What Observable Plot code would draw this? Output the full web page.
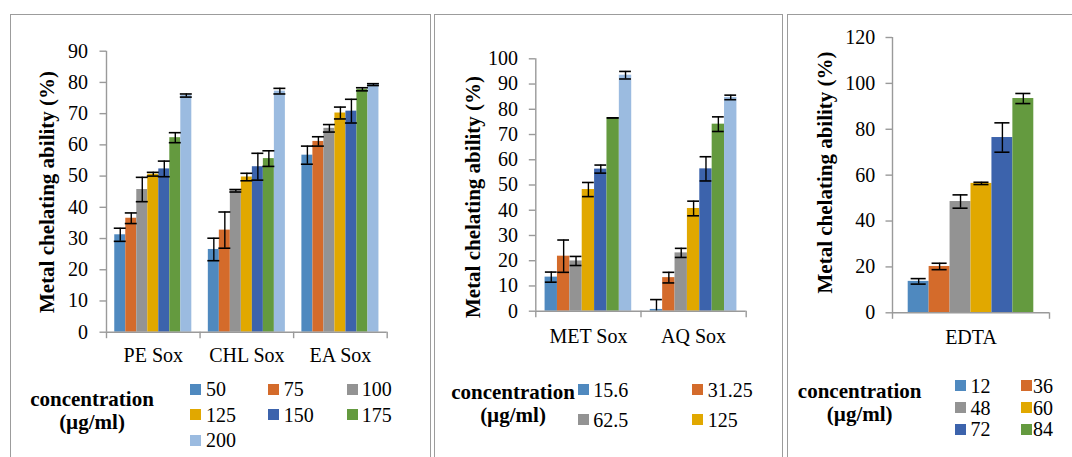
<!DOCTYPE html>
<html>
<head>
<meta charset="utf-8">
<script src="https://cdn.jsdelivr.net/npm/d3@7"></script>
<script src="https://cdn.jsdelivr.net/npm/@observablehq/plot@0.6"></script>
<style>
  html, body { margin: 0; padding: 0; background: #fff; }
  body { position: relative; width: 1072px; height: 457px; overflow: hidden;
         font-family: "Liberation Serif", Times, "DejaVu Serif", serif; color: #000; }
  .panel { position: absolute; box-sizing: border-box; border: 1.5px solid #9c9c9c; height: 520px; }
  .chart { position: absolute; top: 0; }
  .lg-title { position: absolute; font-weight: bold; font-size: 21px; line-height: 21px;
              white-space: nowrap; transform: translateX(-50%); }
  .lg-swatch { position: absolute; width: 11px; height: 11px; }
  .lg-text { position: absolute; font-size: 20px; line-height: 20px; white-space: nowrap; }
</style>
</head>
<body>
<script>
// ---- shared labels and colours ----
const yTitle = "Metal chelating ability (%)";
const legendTitle = ["concentration", "(µg/ml)"];
const palette = ["#4F89BF", "#D46B2B", "#939393", "#E1A800", "#3C63AC", "#649A3F", "#9BBBE0"];
const fontStack = "'Liberation Serif', Times, 'DejaVu Serif', serif";

// ---- Soxhlet extracts: PE, CHL, EA (µg/ml) ----
const groupsA = ["PE Sox", "CHL Sox", "EA Sox"];
const concA = ["50", "75", "100", "125", "150", "175", "200"];
const meanA = [
  [31.2, 36.5, 45.7, 50.6, 52.3, 62.3, 75.8],
  [26.5, 32.7, 45.3, 49.7, 53.0, 55.6, 77.2],
  [56.7, 61.1, 65.3, 70.2, 70.8, 77.8, 79.3]
];
const errA = [
  [2.1, 1.7, 3.9, 0.6, 2.5, 1.6, 0.5],
  [3.6, 5.8, 0.4, 1.2, 4.3, 2.5, 0.9],
  [2.9, 1.5, 1.2, 1.9, 3.8, 0.5, 0.3]
];
const yTicksA = [0, 10, 20, 30, 40, 50, 60, 70, 80, 90];

// ---- Soxhlet extracts: MET, AQ ----
const groupsB = ["MET Sox", "AQ Sox"];
const concB = ["15.6", "31.25", "62.5", "125", "250", "500", "1000"];
const legendConcB = ["15.6", "31.25", "62.5", "125"];
const meanB = [
  [13.5, 21.8, 19.9, 48.2, 56.3, 76.6, 93.5],
  [0.7, 13.3, 23.1, 40.7, 56.4, 74.1, 84.7]
];
const errB = [
  [2.0, 6.4, 1.8, 2.8, 1.6, 0.0, 1.5],
  [3.9, 2.1, 1.8, 2.9, 4.8, 2.9, 0.9]
];
const yTicksB = [0, 10, 20, 30, 40, 50, 60, 70, 80, 90, 100];

// ---- EDTA standard ----
const groupsC = ["EDTA"];
const concC = ["12", "36", "48", "60", "72", "84"];
const meanC = [[13.7, 20.2, 48.5, 56.4, 76.4, 93.4]];
const errC = [[1.2, 1.4, 2.9, 0.5, 6.4, 2.2]];
const yTicksC = [0, 20, 40, 60, 80, 100, 120];

// ---- panel layout (page pixels) ----
const panels = [
  {
    groups: groupsA, concs: concA, means: meanA, errs: errA, yTicks: yTicksA, legendConcs: concA,
    box: {left: 10, top: 14, width: 421},
    svg: {left: 11, width: 419, mL: 95, mR: 43.3, mT: 50.7, mB: 125.3},
    capHalf: 0.064, catPad: 15.5, yPad: 12, titleDx: -59.3, titleDy: 0.3,
    legend: {titleCx: 92, baselines: [407, 430], swatchX: [190, 268.3, 346.7],
             textX: [206, 283.7, 361.7], rowY: [389.3, 414.5, 440]}
  },
  {
    groups: groupsB, concs: concB, means: meanB, errs: errB, yTicks: yTicksB, legendConcs: legendConcB,
    box: {left: 434, top: 14, width: 349},
    svg: {left: 435, width: 347, mL: 100.3, mR: 36.3, mT: 58.3, mB: 146.3},
    capHalf: 0.056, catPad: 18, yPad: 11.4, titleDx: -62.6, titleDy: 12,
    legend: {titleCx: 513, baselines: [400, 423], swatchX: [578.3, 692.3],
             textX: [593.3, 707.7], rowY: [389.7, 419.5]}
  },
  {
    groups: groupsC, concs: concC, means: meanC, errs: errC, yTicks: yTicksC, legendConcs: concC,
    box: {left: 787, top: 14, width: 300},
    svg: {left: 788, width: 284, mL: 104, mR: 23, mT: 37, mB: 144.7},
    capHalf: 0.048, catPad: 17, yPad: 10.7, titleDx: -67, titleDy: -2.7,
    legend: {titleCx: 859.7, baselines: [399, 421.5], swatchX: [955, 1021],
             textX: [970.5, 1033], rowY: [385.7, 407.7, 429]}
  }
];

const axisColor = "#9a9a9a";
const H = 457;

function drawPanel(p) {
  const n = p.concs.length;
  const w = 1 / (n + 1.5); // bar width in group units (Excel-style 150% gap)
  const rows = p.groups.flatMap((g, gi) => p.concs.map((c, ci) => {
    const x1 = gi + 0.75 * w + ci * w;
    const mean = p.means[gi][ci], err = p.errs[gi][ci];
    return {group: g, conc: c, x1, x2: x1 + w, xc: x1 + w / 2, mean, err,
            lo: Math.max(0, mean - err), hi: mean + err, clipped: mean - err < 0};
  }));
  const colorRange = palette.slice(0, n);

  const plot = Plot.plot({
    width: p.svg.width,
    height: H,
    marginLeft: p.svg.mL,
    marginRight: p.svg.mR,
    marginTop: p.svg.mT,
    marginBottom: p.svg.mB,
    style: {background: "transparent", fontFamily: fontStack,
            fontSize: "20px", color: "#000", overflow: "visible"},
    x: {domain: [0, p.groups.length], axis: null},
    y: {domain: [0, p.yTicks[p.yTicks.length - 1]], axis: null},
    color: {domain: p.concs, range: colorRange},
    marks: [
      Plot.rect(rows, {x1: "x1", x2: "x2", y1: 0, y2: "mean", fill: "conc"}),
      // error bars
      Plot.ruleX(rows, {x: "xc", y1: "lo", y2: "hi", stroke: "#000", strokeWidth: 1.4}),
      Plot.ruleY(rows, {y: "hi", x1: d => d.xc - p.capHalf, x2: d => d.xc + p.capHalf,
                        stroke: "#000", strokeWidth: 1.6}),
      Plot.ruleY(rows.filter(d => !d.clipped), {y: "lo", x1: d => d.xc - p.capHalf,
                        x2: d => d.xc + p.capHalf, stroke: "#000", strokeWidth: 1.6}),
      // axis lines
      Plot.ruleY([0], {stroke: axisColor, strokeWidth: 1.4}),
      Plot.ruleX([0], {stroke: axisColor, strokeWidth: 1.4}),
      Plot.axisY({ticks: p.yTicks, tickSize: 6.5, tickPadding: p.yPad, stroke: axisColor,
                  strokeWidth: 1.4, label: null, tickFormat: d => String(d)}),
      // group separators on the category axis
      Plot.axisX({ticks: d3.range(p.groups.length + 1), tickSize: 6.5, stroke: axisColor,
                  strokeWidth: 1.4, tickFormat: () => "", label: null}),
      // category names centred in each group
      Plot.axisX({ticks: p.groups.map((g, i) => i + 0.5), tickSize: 0, tickPadding: p.catPad,
                  tickFormat: d => p.groups[Math.floor(d)], label: null}),
      Plot.text([yTitle], {frameAnchor: "left", textAnchor: "middle", lineAnchor: "middle",
                           rotate: -90, dx: p.titleDx, dy: p.titleDy,
                           fontWeight: "bold", fontSize: 21, fill: "#000"})
    ]
  });
  plot.classList.add("chart");
  plot.style.left = p.svg.left + "px";
  document.body.appendChild(plot);

  // frame around the panel
  const box = document.createElement("div");
  box.className = "panel";
  box.style.left = p.box.left + "px";
  box.style.top = p.box.top + "px";
  box.style.width = p.box.width + "px";
  document.body.appendChild(box);

  // legend
  const L = p.legend;
  legendTitle.forEach((t, i) => {
    const el = document.createElement("div");
    el.className = "lg-title";
    el.textContent = t;
    el.style.left = L.titleCx + "px";
    el.style.top = (L.baselines[i] - 17.6) + "px";
    document.body.appendChild(el);
  });
  const cols = L.swatchX.length;
  p.legendConcs.forEach((c, i) => {
    const col = i % cols, row = Math.floor(i / cols);
    const cy = L.rowY[row];
    const sw = document.createElement("div");
    sw.className = "lg-swatch";
    sw.style.left = L.swatchX[col] + "px";
    sw.style.top = (cy - 5.5) + "px";
    sw.style.background = colorRange[p.concs.indexOf(c)];
    document.body.appendChild(sw);
    const tx = document.createElement("div");
    tx.className = "lg-text";
    tx.textContent = c;
    tx.style.left = L.textX[col] + "px";
    tx.style.top = (cy - 10) + "px";
    document.body.appendChild(tx);
  });
}

panels.forEach(drawPanel);
</script>
</body>
</html>
